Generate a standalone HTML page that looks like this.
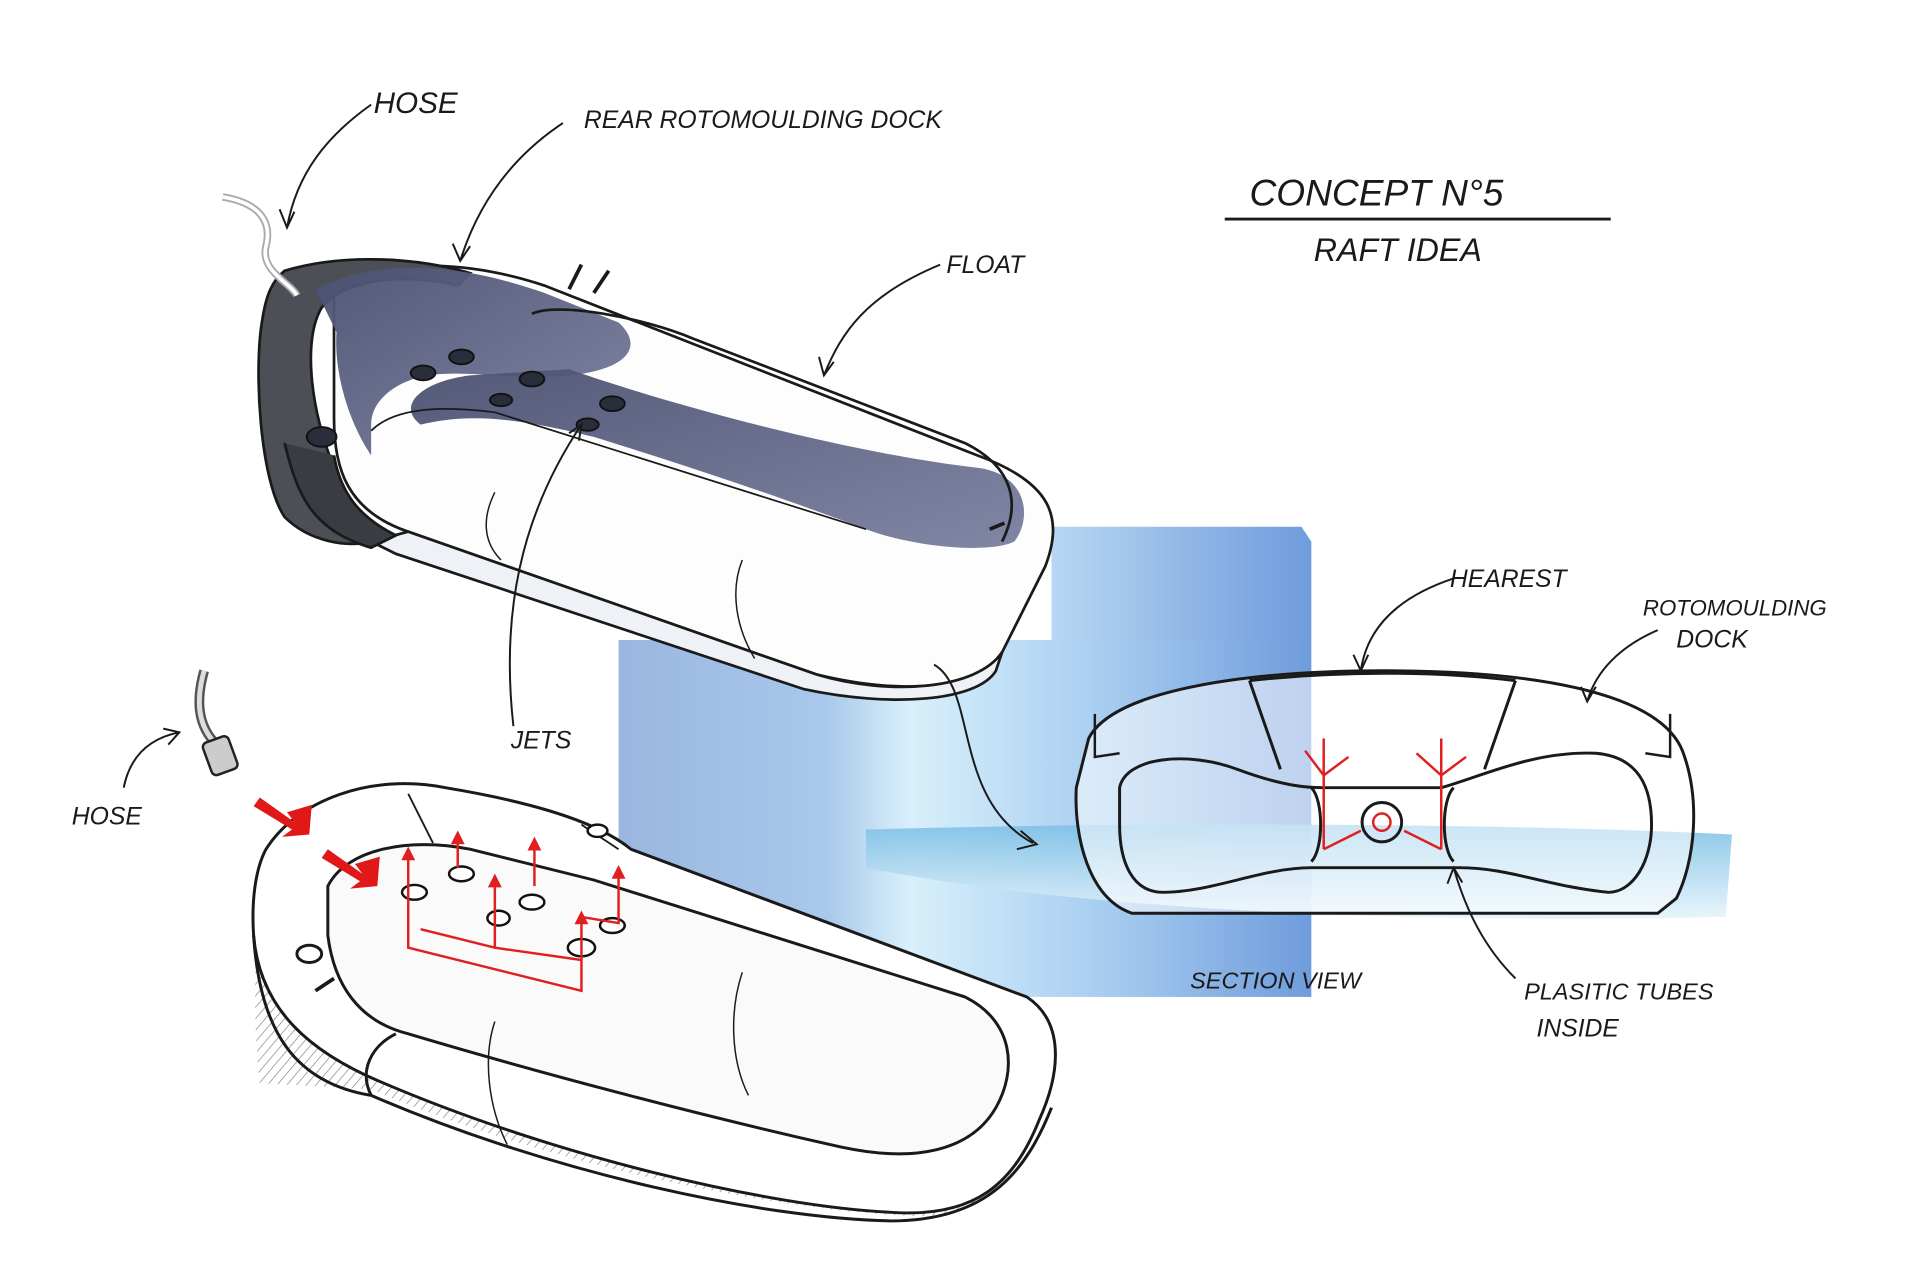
<!DOCTYPE html>
<html><head><meta charset="utf-8"><style>
html,body{margin:0;padding:0;background:#fff}
svg{display:block}
text{font-family:"Liberation Sans",sans-serif;font-style:italic;fill:#1a1a1a}
</style></head><body>
<svg width="1920" height="1280" viewBox="0 0 1552 1040" preserveAspectRatio="none" xmlns="http://www.w3.org/2000/svg">
<defs>
<linearGradient id="bg" x1="0" x2="1" y1="0" y2="0">
<stop offset="0" stop-color="#9ab6e0"/><stop offset="0.3" stop-color="#a9c8ea"/><stop offset="0.42" stop-color="#d8f0fb"/><stop offset="0.7" stop-color="#a8cdf0"/><stop offset="1" stop-color="#6f9cdc"/>
</linearGradient>
<linearGradient id="bg2" x1="0" x2="1" y1="0" y2="0">
<stop offset="0" stop-color="#b7d6f2"/><stop offset="1" stop-color="#6f9cdc"/>
</linearGradient>
<linearGradient id="wat" x1="0" x2="0" y1="0" y2="1">
<stop offset="0" stop-color="#7fc0e6"/><stop offset="1" stop-color="#e6f4fb"/>
</linearGradient>
<linearGradient id="navy" x1="0" x2="1" y1="0" y2="1">
<stop offset="0" stop-color="#4a5070"/><stop offset="1" stop-color="#7a80a0"/>
</linearGradient>
<pattern id="hatch" width="6" height="6" patternUnits="userSpaceOnUse" patternTransform="rotate(40)">
<line x1="0" y1="0" x2="0" y2="6" stroke="#777" stroke-width="1"/></pattern>
</defs>
<rect width="1552" height="1040" fill="#fff"/>
<!-- blue backdrop -->
<rect x="500" y="520" width="560" height="290" fill="url(#bg)"/>
<path d="M850,428 L1052,428 L1060,440 L1060,520 L850,520 Z" fill="url(#bg2)"/>
<path d="M700,674 C900,668 1200,668 1400,678 L1395,745 C1200,750 900,745 700,705 Z" fill="url(#wat)" opacity="0.9"/>

<!-- TOP RAFT -->
<g stroke="#1a1a1a" stroke-width="2.2" fill="none">
<path d="M270,230 C320,210 380,212 440,232 L790,370 C850,392 860,420 845,460 L810,530 C790,560 730,565 660,548 L330,432 C280,415 270,380 270,340 Z" fill="#fdfdfd"/>
<path d="M300,440 L330,432 L660,548 C720,566 790,560 810,530 L805,545 C790,570 720,575 650,560 L320,450 Z" fill="#eef2f6"/>
<path d="M230,220 C280,205 340,210 380,222 L370,232 C330,222 280,225 260,250 C245,275 250,330 270,380 L300,440 C280,445 250,440 230,420 C210,390 205,300 212,260 C215,240 220,228 230,220 Z" fill="#4d4f57"/>
<path d="M230,360 C240,400 250,430 300,445 L320,435 C290,420 275,400 270,370" fill="#3a3c44"/>
<path d="M255,235 C300,212 360,210 440,238 L500,262 C520,280 510,300 460,305 C420,310 380,300 345,305 C320,310 300,325 300,345 L300,370 C280,340 270,300 272,270 Z" fill="url(#navy)" stroke="none" opacity="0.95"/>
<path d="M460,300 C560,335 700,370 790,380 C830,385 835,420 820,440 C800,450 740,445 700,430 C620,400 560,380 480,355 C420,340 380,335 340,345 C320,330 340,310 380,305 Z" fill="url(#navy)" stroke="none" opacity="0.95"/>
<path d="M430,255 C450,245 520,258 560,275 L780,360 C820,380 825,410 810,440"/>
<path d="M300,350 C320,330 360,330 400,335 L700,430" stroke-width="1.4"/>
<path d="M400,400 C390,420 390,440 405,455" stroke-width="1.2"/>
<path d="M600,455 C590,480 595,510 610,535" stroke-width="1.2"/>
<path d="M460,235 L470,215 M480,238 L492,220" stroke-width="3"/>
<path d="M800,430 L812,425" stroke-width="3"/>
</g>
<g fill="#2a2d3a" stroke="#111" stroke-width="1.5">
<ellipse cx="342" cy="303" rx="10" ry="6"/><ellipse cx="373" cy="290" rx="10" ry="6"/>
<ellipse cx="430" cy="308" rx="10" ry="6"/><ellipse cx="405" cy="325" rx="9" ry="5"/>
<ellipse cx="495" cy="328" rx="10" ry="6"/><ellipse cx="475" cy="345" rx="9" ry="5"/>
<ellipse cx="260" cy="355" rx="12" ry="8"/>
</g>
<path d="M180,160 C210,165 220,180 215,200 C210,220 235,230 240,240" stroke="#aaa" stroke-width="6" fill="none"/>
<path d="M180,160 C210,165 220,180 215,200 C210,220 235,230 240,240" stroke="#fff" stroke-width="3" fill="none"/>

<!-- BOTTOM RAFT -->
<g stroke="#1a1a1a" stroke-width="2.4" fill="none">
<path d="M210,880 C205,840 205,780 210,740 L300,860 L840,900 C830,950 800,990 740,988 C640,985 450,950 300,885 Z" fill="url(#hatch)" stroke="none"/>
<path d="M215,690 C240,650 300,628 360,640 C420,650 480,665 510,690 L830,810 C860,830 858,870 840,910 C820,960 790,990 720,985 C620,980 450,940 310,880 C250,855 210,820 205,760 C203,730 207,705 215,690 Z" fill="#fff"/>
<path d="M205,760 C210,840 240,880 300,890 C450,955 620,990 720,992 C800,992 830,950 850,900"/>
<path d="M265,720 C280,690 330,680 380,690 L480,715 L780,810 C820,830 822,870 805,900 C785,935 740,945 680,932 C560,905 430,870 330,840 C290,830 270,800 265,760 Z" fill="#fafafa"/>
<path d="M300,890 C290,870 300,850 320,840" />
<path d="M400,830 C390,860 395,900 410,930" stroke-width="1.2"/>
<path d="M600,790 C590,820 590,860 605,890" stroke-width="1.2"/>
<path d="M330,645 L350,685 M470,670 L500,690" stroke-width="1.5"/>
<ellipse cx="250" cy="775" rx="10" ry="7"/>
<path d="M255,805 L270,795" stroke-width="3"/>
</g>
<g fill="#fff" stroke="#111" stroke-width="2">
<ellipse cx="335" cy="725" rx="10" ry="6"/><ellipse cx="373" cy="710" rx="10" ry="6"/>
<ellipse cx="430" cy="733" rx="10" ry="6"/><ellipse cx="403" cy="746" rx="9" ry="6"/>
<ellipse cx="495" cy="752" rx="10" ry="6"/><ellipse cx="470" cy="770" rx="11" ry="7"/>
<ellipse cx="483" cy="675" rx="8" ry="5"/>
</g>
<g stroke="#e02020" stroke-width="2" fill="#e02020">
<path d="M330,745 L330,770 L470,805 L470,765 M340,755 L400,770 L400,715 M400,770 L470,780 M370,705 L370,680 M432,720 L432,685 M470,765 L470,745 L500,750 L500,708 M330,770 L330,690" fill="none"/>
<path d="M330,690 l-4,8 h8z M400,712 l-4,8 h8z M432,682 l-4,8 h8z M500,705 l-4,8 h8z M370,677 l-4,8 h8z M470,742 l-4,8 h8z"/>
</g>
<path d="M210,648 L238,668 L232,660 L252,654 L250,678 L228,680 L236,674 L205,655 Z" fill="#e01818"/>
<path d="M265,690 L293,710 L287,702 L307,696 L305,720 L283,722 L291,716 L260,697 Z" fill="#e01818"/>
<path d="M165,545 C158,570 160,590 175,605" stroke="#555" stroke-width="8" fill="none"/>
<path d="M165,545 C158,570 160,590 175,605" stroke="#ddd" stroke-width="4" fill="none"/>
<rect x="167" y="600" width="22" height="28" rx="4" transform="rotate(-20 178 614)" fill="#ccc" stroke="#222" stroke-width="2"/>

<!-- SECTION VIEW -->
<g stroke="#1a1a1a" stroke-width="2.4" fill="none">
<path d="M880,600 C900,560 1010,545 1120,545 C1230,545 1340,560 1360,610 C1375,650 1370,700 1355,730 L1340,742 L915,742 C880,730 868,680 870,640 Z" fill="rgba(255,255,255,0.55)"/>
<path d="M905,640 C910,615 960,610 1000,625 C1040,640 1060,640 1070,640 L1165,640 C1200,630 1240,610 1290,612 C1325,615 1335,640 1335,670 C1335,700 1320,725 1300,725 C1250,720 1220,705 1180,705 L1060,705 C1020,705 980,725 940,725 C915,725 905,700 905,670 Z"/>
<path d="M1010,553 L1035,625 M1225,553 L1200,625"/>
<path d="M1010,553 C1080,545 1160,545 1225,553" />
<path d="M885,580 L885,615 L905,612 M1350,580 L1350,615 L1330,612" stroke-width="2"/>
<path d="M1060,640 C1070,650 1070,690 1060,700 M1175,640 C1165,650 1165,690 1175,700" />
<circle cx="1117" cy="668" r="16"/>
</g>
<g stroke="#e02020" stroke-width="2" fill="none">
<circle cx="1117" cy="668" r="7"/>
<path d="M1070,690 L1070,600 M1070,630 L1055,610 M1070,630 L1090,615 M1165,690 L1165,600 M1165,630 L1145,612 M1165,630 L1185,615 M1070,690 L1100,675 M1165,690 L1135,675"/>
</g>
<g stroke="#1a1a1a" stroke-width="1.6" fill="none">
<path d="M300,85 C265,110 240,140 232,185 M226,170 L232,185 L238,172"/>
<path d="M455,100 C410,130 385,170 372,212 M366,198 L372,212 L380,200"/>
<path d="M760,215 C700,240 680,270 666,305 M662,290 L666,305 L674,294"/>
<path d="M415,590 C405,500 420,420 470,345 M460,352 L470,345 L468,358"/>
<path d="M755,540 C790,560 770,650 835,685 M825,675 L838,686 L822,690"/>
<path d="M1175,470 C1130,485 1105,510 1100,545 M1094,532 L1100,545 L1106,532"/>
<path d="M1340,512 C1310,525 1290,545 1283,570 M1278,558 L1283,570 L1290,558"/>
<path d="M1225,795 C1200,770 1185,740 1175,705 M1170,718 L1175,705 L1182,717"/>
<path d="M100,640 C105,615 120,600 145,595 M132,592 L145,595 L136,605"/>
<path d="M990,178 L1302,178" stroke-width="2.4"/>
</g>
<text x="302" y="92" font-size="24">HOSE</text>
<text x="472" y="104" font-size="20">REAR ROTOMOULDING DOCK</text>
<text x="765" y="222" font-size="20">FLOAT</text>
<text x="1010" y="167" font-size="30">CONCEPT N°5</text>
<text x="1062" y="212" font-size="26">RAFT IDEA</text>
<text x="413" y="608" font-size="20">JETS</text>
<text x="58" y="670" font-size="20">HOSE</text>
<text x="1172" y="477" font-size="20">HEAREST</text>
<text x="1328" y="500" font-size="18">ROTOMOULDING</text>
<text x="1355" y="526" font-size="20">DOCK</text>
<text x="962" y="803" font-size="19">SECTION VIEW</text>
<text x="1232" y="812" font-size="19">PLASITIC TUBES</text>
<text x="1242" y="842" font-size="20">INSIDE</text>
</svg>
</body></html>
